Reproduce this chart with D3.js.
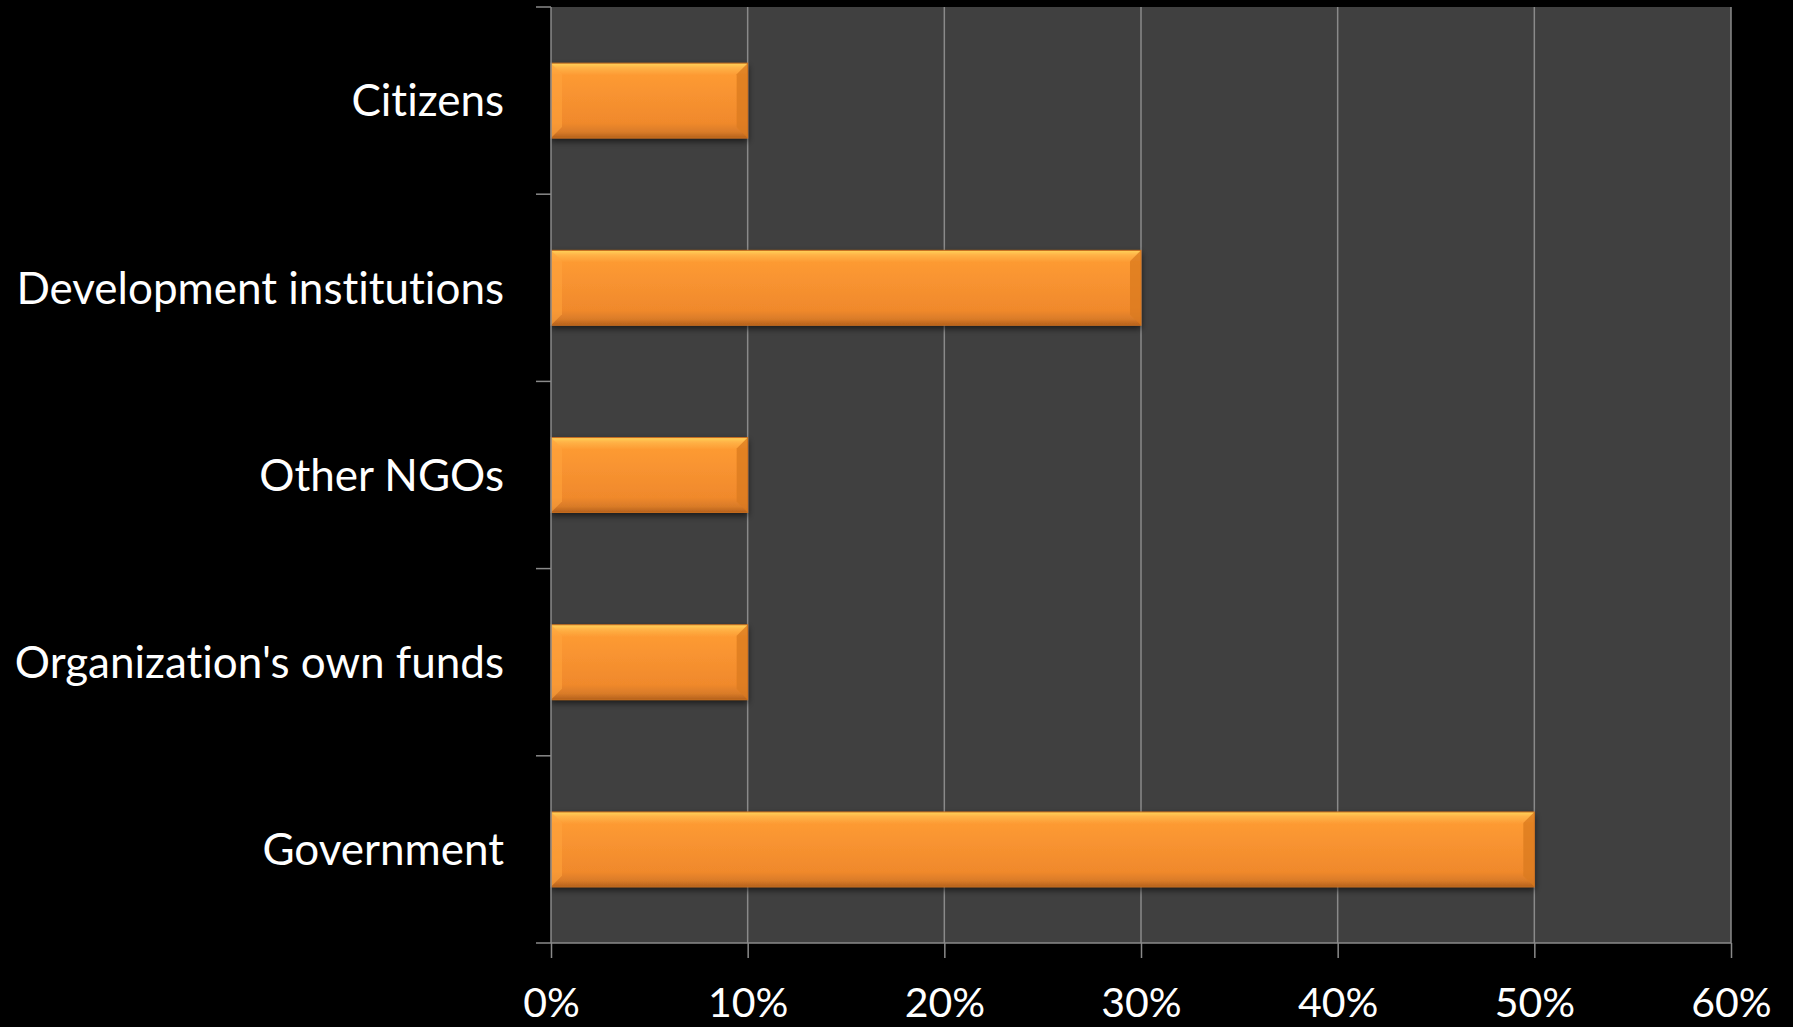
<!DOCTYPE html>
<html>
<head>
<meta charset="utf-8">
<script src="https://cdn.jsdelivr.net/npm/d3@7"></script>
<style>
  body { margin: 0; background: #000; }
  svg { display: block; }
  text { font-variant-ligatures: none; font-feature-settings: "liga" 0, "clig" 0; }
</style>
</head>
<body>
<svg id="chart"></svg>
<script>
// Funding sources, share of organizations

const categories = ["Citizens", "Development institutions", "Other NGOs", "Organization's own funds", "Government"];
const values = [0.10, 0.30, 0.10, 0.10, 0.50];
const xTicks = [0, 0.1, 0.2, 0.3, 0.4, 0.5, 0.6];

const width = 1793, height = 1027;
const margin = {top: 7, right: 62, bottom: 84, left: 551};

const svg = d3.select("#chart")
  .attr("width", width)
  .attr("height", height);

svg.append("rect")
  .attr("width", width)
  .attr("height", height)
  .attr("fill", "#000");

const x = d3.scaleLinear()
  .domain([0, 0.6])
  .range([margin.left, width - margin.right]);

const y = d3.scaleBand()
  .domain(categories)
  .range([margin.top, height - margin.bottom])
  .paddingInner(0.6)
  .paddingOuter(0.3);

const defs = svg.append("defs");

const grad = defs.append("linearGradient")
  .attr("id", "barFill")
  .attr("x1", 0).attr("y1", 0).attr("x2", 0).attr("y2", 1);
grad.append("stop").attr("offset", "0%").attr("stop-color", "#ffd35a");
grad.append("stop").attr("offset", "6%").attr("stop-color", "#ffb347");
grad.append("stop").attr("offset", "16%").attr("stop-color", "#fd9a33");
grad.append("stop").attr("offset", "80%").attr("stop-color", "#f0892c");
grad.append("stop").attr("offset", "92%").attr("stop-color", "#d97b28");
grad.append("stop").attr("offset", "100%").attr("stop-color", "#b5611c");

const shadow = defs.append("filter")
  .attr("id", "shadow")
  .attr("x", "-5%").attr("y", "-20%")
  .attr("width", "110%").attr("height", "160%");
shadow.append("feDropShadow")
  .attr("dx", 0).attr("dy", 3)
  .attr("stdDeviation", 3)
  .attr("flood-color", "#000")
  .attr("flood-opacity", 0.6);

// plot background
const plotBottom = height - margin.bottom;
svg.append("rect")
  .attr("x", x(0))
  .attr("y", margin.top)
  .attr("width", x(0.6) - x(0))
  .attr("height", plotBottom - margin.top)
  .attr("fill", "#404040");

// vertical gridlines
svg.append("g")
  .selectAll("line")
  .data(xTicks.slice(1))
  .join("line")
  .attr("x1", d => x(d)).attr("x2", d => x(d))
  .attr("y1", margin.top).attr("y2", plotBottom)
  .attr("stroke", "#8a8a8a")
  .attr("stroke-width", 1.5);

// bars
const bars = svg.append("g")
  .selectAll("g")
  .data(categories.map((c, i) => ({name: c, value: values[i]})))
  .join("g")
  .attr("filter", "url(#shadow)");

bars.append("rect")
  .attr("x", x(0))
  .attr("y", d => y(d.name))
  .attr("width", d => x(d.value) - x(0))
  .attr("height", y.bandwidth())
  .attr("fill", "url(#barFill)")
  .attr("stroke", "#c86e1f")
  .attr("stroke-width", 1);

// bevel on the right edge
bars.append("polygon")
  .attr("points", d => {
    const x1 = x(d.value), y0 = y(d.name), h = y.bandwidth(), b = 11;
    return [[x1 - b, y0 + b], [x1, y0], [x1, y0 + h], [x1 - b, y0 + h - b]].join(" ");
  })
  .attr("fill", "#d9791f")
  .attr("opacity", 0.75);

// bevel on the left edge
bars.append("polygon")
  .attr("points", d => {
    const x0 = x(0), y0 = y(d.name), h = y.bandwidth(), b = 11;
    return [[x0, y0], [x0 + b, y0 + b], [x0 + b, y0 + h - b], [x0, y0 + h]].join(" ");
  })
  .attr("fill", "#ffa43c")
  .attr("opacity", 0.6);

// x axis
const xAxis = svg.append("g")
  .attr("transform", `translate(0,${plotBottom})`)
  .call(d3.axisBottom(x)
    .tickValues(xTicks)
    .tickFormat(d3.format(".0%"))
    .tickSize(15)
    .tickPadding(30));

xAxis.select(".domain").remove();
xAxis.append("line")
  .attr("x1", x(0) - 15).attr("x2", x(0.6))
  .attr("y1", 0).attr("y2", 0)
  .attr("stroke", "#8a8a8a")
  .attr("stroke-width", 1.5);
xAxis.selectAll(".tick line")
  .attr("stroke", "#8a8a8a")
  .attr("stroke-width", 1.5);
xAxis.selectAll(".tick text")
  .attr("fill", "#fff")
  .attr("font-family", "Lato, 'Open Sans', sans-serif")
  .attr("font-size", 41)
  .attr("dy", "0.71em");

// y axis: category boundaries get the tick marks
const boundaries = [margin.top].concat(categories.slice(1).map(c => y(c) - (y.step() - y.bandwidth()) / 2));

const yAxis = svg.append("g");
yAxis.append("line")
  .attr("x1", x(0)).attr("x2", x(0))
  .attr("y1", margin.top).attr("y2", plotBottom)
  .attr("stroke", "#8a8a8a")
  .attr("stroke-width", 1.5);
yAxis.selectAll("line.tk")
  .data(boundaries)
  .join("line")
  .attr("class", "tk")
  .attr("x1", x(0) - 15).attr("x2", x(0))
  .attr("y1", d => d).attr("y2", d => d)
  .attr("stroke", "#8a8a8a")
  .attr("stroke-width", 1.5);

yAxis.selectAll("text")
  .data(categories)
  .join("text")
  .attr("x", x(0) - 47)
  .attr("y", d => y(d) + y.bandwidth() / 2)
  .attr("dy", "0.36em")
  .attr("text-anchor", "end")
  .attr("fill", "#fff")
  .attr("font-family", "Lato, 'Open Sans', sans-serif")
  .attr("font-size", 44)
  .text(d => d);
</script>
</body>
</html>
